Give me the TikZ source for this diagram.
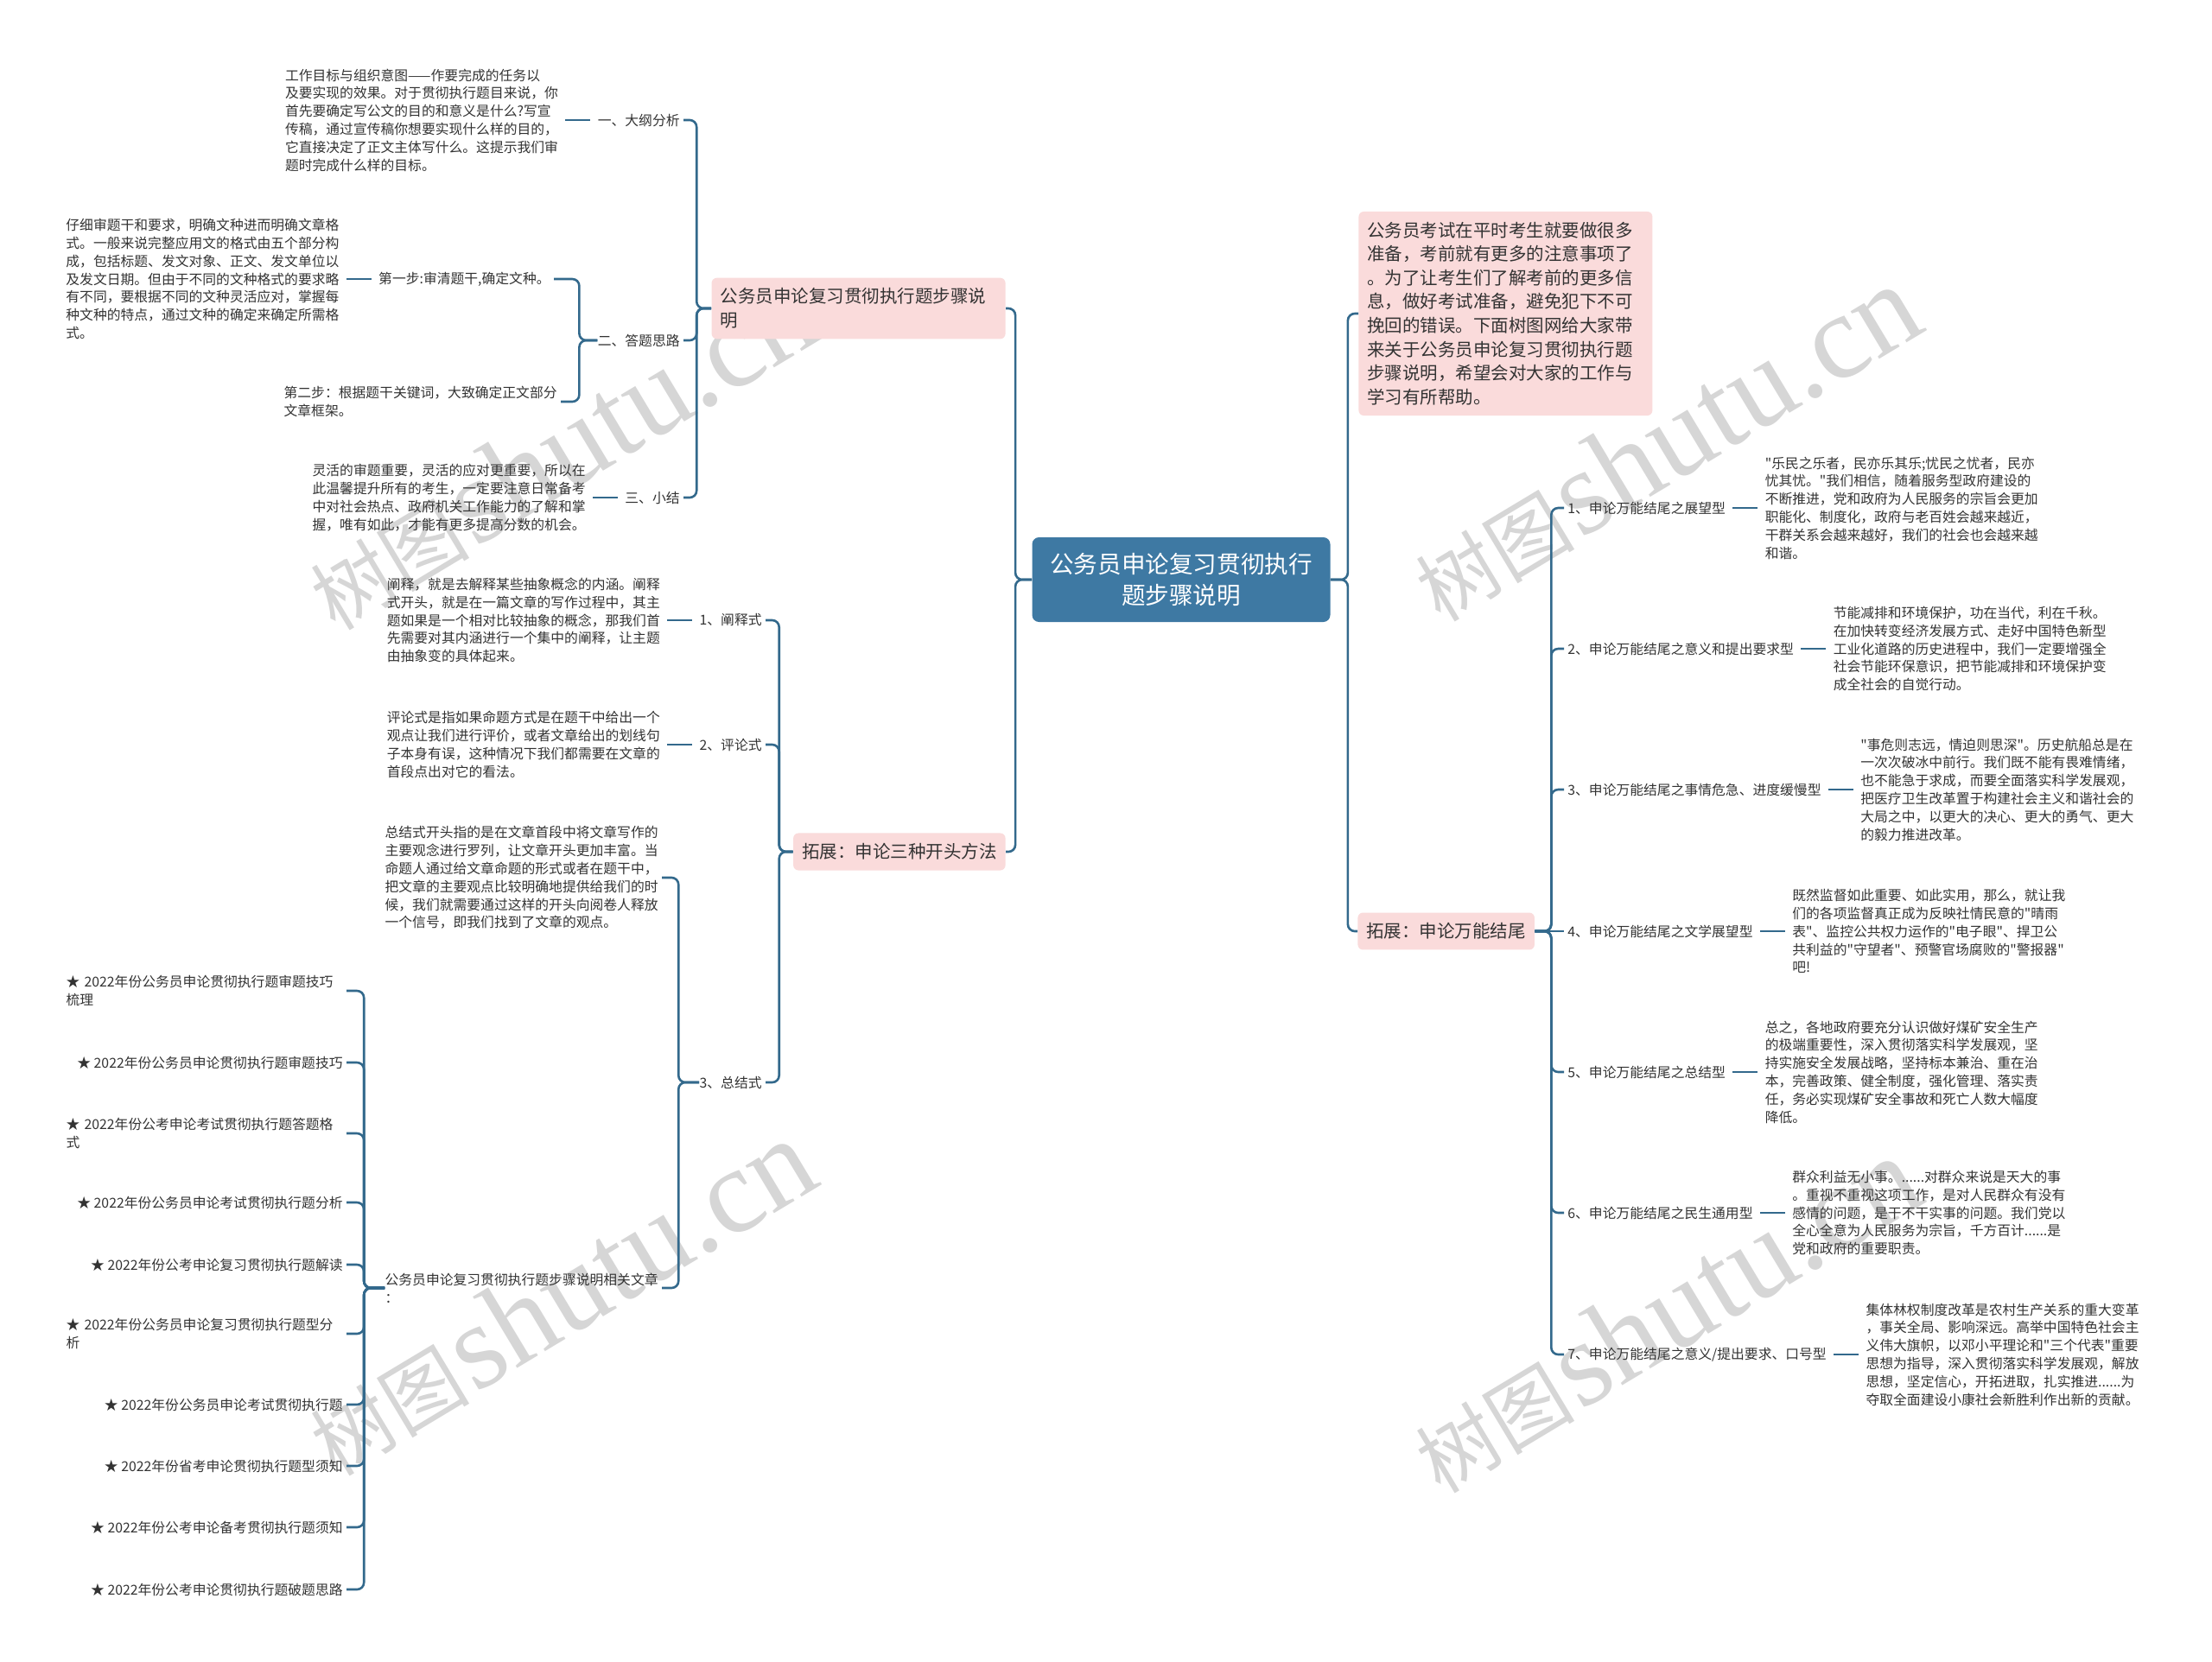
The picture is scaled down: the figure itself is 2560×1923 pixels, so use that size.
\documentclass[tikz,border=0pt]{standalone}
\usepackage{fontspec}
\setmainfont{Noto Sans CJK SC}
\newfontfamily\cjk{Noto Sans CJK SC}
\newfontfamily\wmserif{Liberation Serif}
\usepackage{tikz}
\usetikzlibrary{positioning}
\definecolor{Wire}{HTML}{33698C}
\definecolor{Root}{HTML}{3E79A3}
\definecolor{Blush}{HTML}{FADBDB}
\definecolor{Ink}{HTML}{333333}
\definecolor{Faint}{HTML}{D6D6D6}
\newcommand\fsmall{\cjk\fontsize{7.9pt}{10.4pt}\selectfont}
\newcommand\fmid{\cjk\fontsize{10.25pt}{13.8pt}\selectfont}
\newcommand\fbig{\cjk\fontsize{13.8pt}{18.3pt}\selectfont}
\newcommand\wmtext{{\fontsize{46pt}{46pt}\selectfont 树图} {\wmserif\fontsize{70pt}{70pt}\selectfont shutu.cn}}
\tikzset{
  every node/.append style={text=Ink},
  topic/.style={fill=Root, rounded corners=4pt, align=center, text=white, font=\fbig,
                minimum width=172.5pt, minimum height=49pt, inner sep=0pt},
  branch/.style={fill=Blush, rounded corners=3pt, align=left, font=\fmid,
                 inner xsep=5pt, inner ysep=6pt},
  leaf/.style={font=\fsmall, align=left, inner sep=0pt},
  wire/.style={draw=Wire, line width=1.3pt, rounded corners=4pt},
  stub/.style={wire, shorten <=4pt, shorten >=4pt},
  fork/.style={wire, shorten >=2pt},
  wm/.style={text=Faint, rotate=31, inner sep=0pt},
}

\begin{document}
\begin{tikzpicture}[x=0.5pt, y=-0.5pt, node distance=22.5pt]
  \fill[white] (0,0) rectangle (2560,1923);
  \useasboundingbox (0,0) rectangle (2560,1923);
  % watermarks
  \node[wm] at (648,523) {\wmtext};
  \node[wm] at (648,1502) {\wmtext};
  \node[wm] at (1927,513) {\wmtext};
  \node[wm] at (1927,1522) {\wmtext};

  % centre and first level
  \node[topic] (root) at (1367,671) {公务员申论复习贯彻执行\\题步骤说明};
  \node[branch, text width=160pt, anchor=east] (steps) at (1164,357) {公务员申论复习贯彻执行题步骤说\\明};
  \node[branch, anchor=east] (openers) at (1164,986) {拓展：申论三种开头方法};
  \node[branch, text width=160pt, anchor=west] (intro) at (1572,363) {公务员考试在平时考生就要做很多\\准备，考前就有更多的注意事项了\\。为了让考生们了解考前的更多信\\息，做好考试准备，避免犯下不可\\挽回的错误。下面树图网给大家带\\来关于公务员申论复习贯彻执行题\\步骤说明，希望会对大家的工作与\\学习有所帮助。};
  \node[branch, anchor=west] (endings) at (1571,1078) {拓展：申论万能结尾};

  % steps branch
  \node[leaf, anchor=east] (outline) at (787,139) {一、大纲分析};
  \node[leaf, anchor=east] (approach) at (787,394) {二、答题思路};
  \node[leaf, anchor=east] (summary) at (787,576) {三、小结};
  \node[leaf, left=of outline] (outlinetxt) {工作目标与组织意图——作要完成的任务以\\及要实现的效果。对于贯彻执行题目来说，你\\首先要确定写公文的目的和意义是什么?写宣\\传稿，通过宣传稿你想要实现什么样的目的，\\它直接决定了正文主体写什么。这提示我们审\\题时完成什么样的目标。};
  \node[leaf, anchor=east] (stepa) at (637,323) {第一步:审清题干,确定文种。};
  \node[leaf, left=of stepa] (stepatxt) {仔细审题干和要求，明确文种进而明确文章格\\式。一般来说完整应用文的格式由五个部分构\\成，包括标题、发文对象、正文、发文单位以\\及发文日期。但由于不同的文种格式的要求略\\有不同，要根据不同的文种灵活应对，掌握每\\种文种的特点，通过文种的确定来确定所需格\\式。};
  \node[leaf, anchor=east] (stepb) at (645,465) {第二步：根据题干关键词，大致确定正文部分\\文章框架。};
  \node[leaf, left=of summary] (summarytxt) {灵活的审题重要，灵活的应对更重要，所以在\\此温馨提升所有的考生，一定要注意日常备考\\中对社会热点、政府机关工作能力的了解和掌\\握，唯有如此，才能有更多提高分数的机会。};

  % openers branch
  \node[leaf, anchor=east] (explain) at (882,718) {1、阐释式};
  \node[leaf, anchor=east] (comment) at (882,862) {2、评论式};
  \node[leaf, anchor=east] (conclude) at (882,1253) {3、总结式};
  \node[leaf, left=of explain] (explaintxt) {阐释，就是去解释某些抽象概念的内涵。阐释\\式开头，就是在一篇文章的写作过程中，其主\\题如果是一个相对比较抽象的概念，那我们首\\先需要对其内涵进行一个集中的阐释，让主题\\由抽象变的具体起来。};
  \node[leaf, left=of comment] (commenttxt) {评论式是指如果命题方式是在题干中给出一个\\观点让我们进行评价，或者文章给出的划线句\\子本身有误，这种情况下我们都需要在文章的\\首段点出对它的看法。};
  \node[leaf, anchor=east] (concludetxt) at (762,1016) {总结式开头指的是在文章首段中将文章写作的\\主要观念进行罗列，让文章开头更加丰富。当\\命题人通过给文章命题的形式或者在题干中，\\把文章的主要观点比较明确地提供给我们的时\\候，我们就需要通过这样的开头向阅卷人释放\\一个信号，即我们找到了文章的观点。};
  \node[leaf, anchor=east] (related) at (762,1491) {公务员申论复习贯彻执行题步骤说明相关文章\\：};

  % related articles
  \node[leaf, anchor=east, text width=160pt] (s1) at (397,1147) {★ 2022年份公务员申论贯彻执行题审题技巧\\梳理};
  \node[leaf, anchor=east] (s2) at (397,1230) {★ 2022年份公务员申论贯彻执行题审题技巧};
  \node[leaf, anchor=east, text width=160pt] (s3) at (397,1312) {★ 2022年份公考申论考试贯彻执行题答题格\\式};
  \node[leaf, anchor=east] (s4) at (397,1392) {★ 2022年份公务员申论考试贯彻执行题分析};
  \node[leaf, anchor=east] (s5) at (397,1464) {★ 2022年份公考申论复习贯彻执行题解读};
  \node[leaf, anchor=east, text width=160pt] (s6) at (397,1544) {★ 2022年份公务员申论复习贯彻执行题型分\\析};
  \node[leaf, anchor=east] (s7) at (397,1626) {★ 2022年份公务员申论考试贯彻执行题};
  \node[leaf, anchor=east] (s8) at (397,1697) {★ 2022年份省考申论贯彻执行题型须知};
  \node[leaf, anchor=east] (s9) at (397,1768) {★ 2022年份公考申论备考贯彻执行题须知};
  \node[leaf, anchor=east] (s10) at (397,1840) {★ 2022年份公考申论贯彻执行题破题思路};

  % endings branch
  \node[leaf, anchor=west] (e1) at (1814,588) {1、申论万能结尾之展望型};
  \node[leaf, anchor=west] (e2) at (1814,751) {2、申论万能结尾之意义和提出要求型};
  \node[leaf, anchor=west] (e3) at (1814,914) {3、申论万能结尾之事情危急、进度缓慢型};
  \node[leaf, anchor=west] (e4) at (1814,1078) {4、申论万能结尾之文学展望型};
  \node[leaf, anchor=west] (e5) at (1814,1241) {5、申论万能结尾之总结型};
  \node[leaf, anchor=west] (e6) at (1814,1404) {6、申论万能结尾之民生通用型};
  \node[leaf, anchor=west] (e7) at (1814,1568) {7、申论万能结尾之意义/提出要求、口号型};
  \node[leaf, right=of e1] (e1txt) {"乐民之乐者，民亦乐其乐;忧民之忧者，民亦\\忧其忧。"我们相信，随着服务型政府建设的\\不断推进，党和政府为人民服务的宗旨会更加\\职能化、制度化，政府与老百姓会越来越近，\\干群关系会越来越好，我们的社会也会越来越\\和谐。};
  \node[leaf, right=of e2] (e2txt) {节能减排和环境保护，功在当代，利在千秋。\\在加快转变经济发展方式、走好中国特色新型\\工业化道路的历史进程中，我们一定要增强全\\社会节能环保意识，把节能减排和环境保护变\\成全社会的自觉行动。};
  \node[leaf, right=of e3] (e3txt) {"事危则志远，情迫则思深"。历史航船总是在\\一次次破冰中前行。我们既不能有畏难情绪，\\也不能急于求成，而要全面落实科学发展观，\\把医疗卫生改革置于构建社会主义和谐社会的\\大局之中，以更大的决心、更大的勇气、更大\\的毅力推进改革。};
  \node[leaf, right=of e4] (e4txt) {既然监督如此重要、如此实用，那么，就让我\\们的各项监督真正成为反映社情民意的"晴雨\\表"、监控公共权力运作的"电子眼"、捍卫公\\共利益的"守望者"、预警官场腐败的"警报器"\\吧!};
  \node[leaf, right=of e5] (e5txt) {总之，各地政府要充分认识做好煤矿安全生产\\的极端重要性，深入贯彻落实科学发展观，坚\\持实施安全发展战略，坚持标本兼治、重在治\\本，完善政策、健全制度，强化管理、落实责\\任，务必实现煤矿安全事故和死亡人数大幅度\\降低。};
  \node[leaf, right=of e6] (e6txt) {群众利益无小事。......对群众来说是天大的事\\。重视不重视这项工作，是对人民群众有没有\\感情的问题，是干不干实事的问题。我们党以\\全心全意为人民服务为宗旨，千方百计......是\\党和政府的重要职责。};
  \node[leaf, right=of e7] (e7txt) {集体林权制度改革是农村生产关系的重大变革\\，事关全局、影响深远。高举中国特色社会主\\义伟大旗帜，以邓小平理论和"三个代表"重要\\思想为指导，深入贯彻落实科学发展观，解放\\思想，坚定信心，开拓进取，扎实推进......为\\夺取全面建设小康社会新胜利作出新的贡献。};

  % connectors
  \draw[wire] (root.west) -- ++(-19,0) |- (steps.east);
  \draw[wire] (root.west) -- ++(-19,0) |- (openers.east);
  \draw[wire] (root.east) -- ++(20,0) |- (intro.west);
  \draw[wire] (root.east) -- ++(20,0) |- (endings.west);

  \draw[fork] (steps.west) -- ++(-17,0) |- (outline.east);
  \draw[fork] (steps.west) -- ++(-17,0) |- (approach.east);
  \draw[fork] (steps.west) -- ++(-17,0) |- (summary.east);
  \draw[stub] (outlinetxt.east) -- (outline.west); \draw[stub] (summarytxt.east) -- (summary.west);
  \draw[fork] (approach.west) -- ++(-21,0) |- (stepa.east);
  \draw[fork] (approach.west) -- ++(-21,0) |- (stepb.east);
  \draw[stub] (stepatxt.east) -- (stepa.west);

  \draw[fork] (openers.west) -- ++(-16,0) |- (explain.east);
  \draw[fork] (openers.west) -- ++(-16,0) |- (comment.east);
  \draw[fork] (openers.west) -- ++(-16,0) |- (conclude.east);
  \draw[stub] (explaintxt.east) -- (explain.west); \draw[stub] (commenttxt.east) -- (comment.west);
  \draw[fork] (conclude.west) -- ++(-24,0) |- (concludetxt.east);
  \draw[fork] (conclude.west) -- ++(-24,0) |- (related.east);

  \draw[fork] (related.west) -- ++(-24,0) |- (s1.east); \draw[fork] (related.west) -- ++(-24,0) |- (s2.east);
  \draw[fork] (related.west) -- ++(-24,0) |- (s3.east); \draw[fork] (related.west) -- ++(-24,0) |- (s4.east);
  \draw[fork] (related.west) -- ++(-24,0) |- (s5.east); \draw[fork] (related.west) -- ++(-24,0) |- (s6.east);
  \draw[fork] (related.west) -- ++(-24,0) |- (s7.east); \draw[fork] (related.west) -- ++(-24,0) |- (s8.east);
  \draw[fork] (related.west) -- ++(-24,0) |- (s9.east); \draw[fork] (related.west) -- ++(-24,0) |- (s10.east);

  \draw[fork] (endings.east) -- ++(19,0) |- (e1.west); \draw[fork] (endings.east) -- ++(19,0) |- (e2.west);
  \draw[fork] (endings.east) -- ++(19,0) |- (e3.west); \draw[fork] (endings.east) -- (e4.west);
  \draw[fork] (endings.east) -- ++(19,0) |- (e5.west); \draw[fork] (endings.east) -- ++(19,0) |- (e6.west);
  \draw[fork] (endings.east) -- ++(19,0) |- (e7.west);
  \draw[stub] (e1.east) -- (e1txt.west); \draw[stub] (e2.east) -- (e2txt.west);
  \draw[stub] (e3.east) -- (e3txt.west); \draw[stub] (e4.east) -- (e4txt.west);
  \draw[stub] (e5.east) -- (e5txt.west); \draw[stub] (e6.east) -- (e6txt.west);
  \draw[stub] (e7.east) -- (e7txt.west);
\end{tikzpicture}
\end{document}
